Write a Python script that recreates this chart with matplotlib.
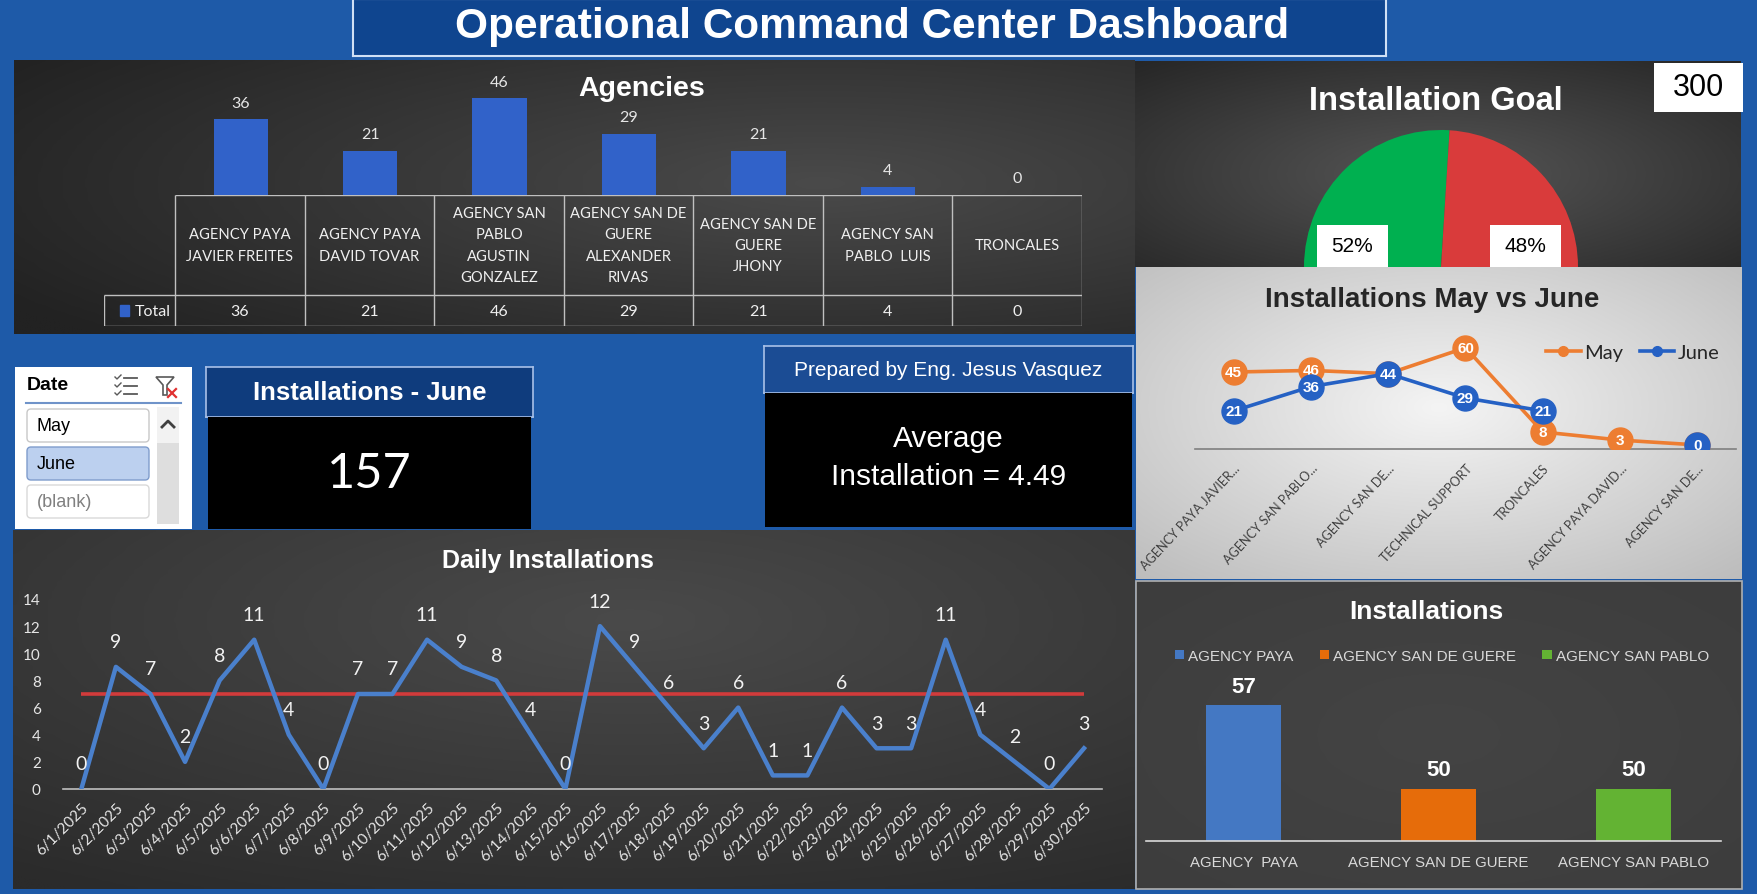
import numpy as np
import matplotlib
matplotlib.use("Agg")
import matplotlib.pyplot as plt
from matplotlib.colors import LinearSegmentedColormap
from matplotlib.patches import Rectangle, FancyBboxPatch, Polygon
from matplotlib.lines import Line2D

W, H = 1758, 895

# ---------------- data ----------------
agency_names = ["AGENCY PAYA\nJAVIER FREITES", "AGENCY PAYA\nDAVID TOVAR",
                "AGENCY SAN\nPABLO\nAGUSTIN\nGONZALEZ", "AGENCY SAN DE\nGUERE\nALEXANDER\nRIVAS",
                "AGENCY SAN DE\nGUERE\nJHONY", "AGENCY SAN\nPABLO  LUIS", "TRONCALES"]
agency_totals = [36, 21, 46, 29, 21, 4, 0]

goal_total = 300
goal_share = [52, 48]
goal_labels = ["52%", "48%"]

compare_cats = ["AGENCY PAYA JAVIER...", "AGENCY SAN PABLO...", "AGENCY SAN DE...",
                "TECHNICAL SUPPORT", "TRONCALES", "AGENCY PAYA DAVID...", "AGENCY SAN DE..."]
may_vals = [45, 46, 44, 60, 8, 3, 0]
june_vals = [21, 36, 44, 29, 21, np.nan, 0]

days = ["6/%d/2025" % d for d in range(1, 31)]
daily = [0, 9, 7, 2, 8, 11, 4, 0, 7, 7, 11, 9, 8, 4, 0,
         12, 9, 6, 3, 6, 1, 1, 6, 3, 3, 11, 4, 2, 0, 3]
daily_target = 7

group_names = ["AGENCY PAYA", "AGENCY SAN DE GUERE", "AGENCY SAN PABLO"]
group_ticks = ["AGENCY  PAYA", "AGENCY SAN DE GUERE", "AGENCY SAN PABLO"]
group_vals = [57, 50, 50]
group_colors = ["#4478c3", "#e66c0a", "#63b333"]

june_total = 157
avg_install = 4.49
slicer_items = ["May", "June", "(blank)"]

# ---------------- helpers ----------------
CAL = ["Lato", "DejaVu Sans"]
ARL = ["Liberation Sans", "DejaVu Sans"]

fig = plt.figure(figsize=(W / 100, H / 100), dpi=100)
fig.set_facecolor("#1e5aa8")


def px_axes(x0, y0, x1, y1):
    return fig.add_axes([x0 / W, 1 - y1 / H, (x1 - x0) / W, (y1 - y0) / H])


def ftext(x, y, s, **kw):
    return fig.text(x / W, 1 - y / H, s, **kw)


def panel(x0, y0, x1, y1, inner, outer, cx=0.5, cy=0.5, spread=0.8, edge=None):
    ax = px_axes(x0, y0, x1, y1)
    yy, xx = np.mgrid[0:1:120j, 0:1:240j]
    r = np.clip(np.hypot(xx - cx, yy - cy) / spread, 0, 1)
    cmap = LinearSegmentedColormap.from_list("g", [inner, outer])
    ax.imshow(r, cmap=cmap, extent=(0, 1, 0, 1), origin="lower", aspect="auto",
              vmin=0, vmax=1, interpolation="bilinear")
    ax.set_axis_off()
    if edge:
        ax.add_patch(Rectangle((0, 0), 1, 1, transform=ax.transAxes, fill=False,
                               ec=edge, lw=1.2, clip_on=False))
    return ax


def box(x0, y0, x1, y1, fc, ec=None, lw=1.2):
    ax = px_axes(x0, y0, x1, y1)
    ax.set_facecolor(fc)
    ax.set_xticks([])
    ax.set_yticks([])
    for s in ax.spines.values():
        if ec:
            s.set_color(ec)
            s.set_linewidth(lw)
        else:
            s.set_visible(False)
    return ax


# ---------------- header ----------------
box(353, 0, 1386, 57, "#0f458f", "#d0e0f5", 1.5)
ftext(872, 27, "Operational Command Center Dashboard", ha="center", va="center",
      color="white", fontsize=30.5, fontweight="bold", family=ARL)

# ---------------- Agencies ----------------
panel(14, 61, 1135, 335, "#4a4a4a", "#222222", cx=0.72, cy=0.55, spread=0.85)
ftext(642, 89, "Agencies", ha="center", va="center", color="white",
      fontsize=20.5, fontweight="bold", family=ARL)

ax = px_axes(176, 70, 1082, 196)
ax.patch.set_alpha(0)
bars = ax.bar(range(len(agency_totals)), agency_totals, width=0.42, color="#3162c9")
ax.bar_label(bars, padding=7, color="#e6e6e6", fontsize=11.5, family=CAL)
ax.set_xlim(-0.5, 6.5)
ax.set_ylim(0, 60)
ax.set_axis_off()

# data table under the bars
ax = px_axes(104.5, 196, 1082, 327)
ax.patch.set_alpha(0)
ax.set_xlim(-1.046, 6.5)
ax.set_ylim(131, 0)
ax.set_axis_off()
lc = "#c0c0c0"
ax.hlines(0, -0.5, 6.5, color=lc, lw=1)
ax.hlines([100, 131], -1.046, 6.5, color=lc, lw=1)
ax.vlines(np.arange(-0.5, 7, 1), 0, 131, color=lc, lw=1)
ax.vlines(-1.046, 100, 131, color=lc, lw=1)
for i, (name, v) in enumerate(zip(agency_names, agency_totals)):
    ax.text(i, 50, name, ha="center", va="center", color="#f0f0f0", fontsize=10.6,
            family=CAL, linespacing=1.65)
    ax.text(i, 115.5, str(v), ha="center", va="center", color="#f0f0f0",
            fontsize=11.5, family=CAL)
ax.add_patch(Rectangle((-0.925, 110), 0.07, 11, color="#3162c9"))
ax.text(-0.81, 115.5, "Total", ha="left", va="center", color="#f0f0f0",
        fontsize=11.5, family=CAL)

# ---------------- Installation Goal ----------------
panel(1135, 62, 1741, 268, "#565656", "#262626", cx=0.5, cy=0.45, spread=0.75)
ftext(1436, 102, "Installation Goal", ha="center", va="center", color="white",
      fontsize=23.5, fontweight="bold", family=ARL)
ax = px_axes(1441 - 137, 268 - 137, 1441 + 137, 268 + 137)
ax.pie(goal_share + [sum(goal_share)], colors=["#00b050", "#d93b3b", "none"],
       startangle=180, counterclock=False, radius=1,
       wedgeprops={"linewidth": 0})
ax.set_xlim(-1, 1)
ax.set_ylim(-1, 1)
ax.set_axis_off()

# ---------------- May vs June ----------------
panel(1136, 268, 1742, 580, "#f4f4f4", "#bcbcbc", cx=0.5, cy=0.55, spread=0.75)
ftext(1432, 300, "Installations May vs June", ha="center", va="center",
      color="#262626", fontsize=20, fontweight="bold", family=ARL)

# goal labels drawn after the lower panel so they sit on top
for (x0, x1), lab in zip([(1317, 1388), (1490, 1561)], goal_labels):
    b = box(x0, 226, x1, 268, "white")
    b.text(0.5, 0.5, lab, transform=b.transAxes, ha="center", va="center",
           fontsize=15, family=ARL, color="black")
b = box(1654, 64, 1743, 113, "white")
b.text(0.5, 0.5, str(goal_total), transform=b.transAxes, ha="center", va="center",
       fontsize=22, family=ARL, color="black")

ax = px_axes(1195, 328, 1736, 450)
ax.patch.set_alpha(0)
xs = np.arange(len(compare_cats))
may_c, june_c = "#ed7d31", "#2561c4"
ax.plot(xs, may_vals, "-o", color=may_c, lw=2.6, ms=18, zorder=3)
ax.plot(xs, june_vals, "-o", color=june_c, lw=2.6, ms=18, zorder=5)
for i, v in enumerate(may_vals):
    ax.text(i, v, str(v), ha="center", va="center", color="white", fontsize=11,
            fontweight="bold", family=ARL, zorder=4)
for i, v in enumerate(june_vals):
    if not np.isnan(v):
        ax.text(i, v, str(int(v)), ha="center", va="center", color="white",
                fontsize=11, fontweight="bold", family=ARL, zorder=6)
ax.set_xlim(-0.5, 6.5)
ax.set_ylim(-2.5, 72.8)
for s in ["top", "left", "right"]:
    ax.spines[s].set_visible(False)
ax.spines["bottom"].set_color("#7f7f7f")
ax.spines["bottom"].set_linewidth(1.2)
ax.set_yticks([])
ax.set_xticks(xs)
ax.set_xticklabels(compare_cats, rotation=47, ha="right", rotation_mode="anchor",
                   fontsize=9.0, family=CAL, color="#404040")
ax.tick_params(axis="x", length=0, pad=9)
handles = [Line2D([], [], color=may_c, marker="o", ms=7, lw=2.6),
           Line2D([], [], color=june_c, marker="o", ms=7, lw=2.6)]
ax.legend(handles, ["May", "June"], ncol=2, frameon=False, loc="center",
          bbox_to_anchor=(1633 / W, 1 - 353 / H), bbox_transform=fig.transFigure,
          prop={"family": CAL, "size": 14.5}, labelcolor="#262626",
          handlelength=1.7, handletextpad=0.2, columnspacing=0.8)

# ---------------- Installations by group ----------------
panel(1136, 582, 1742, 890, "#444444", "#3c3c3c", edge="#b0b0b0")
ftext(1426, 612, "Installations", ha="center", va="center", color="white",
      fontsize=19, fontweight="bold", family=ARL)
ax = px_axes(1146, 680, 1721, 842)
ax.patch.set_alpha(0)
gb = ax.bar(range(len(group_vals)), group_vals, width=0.385, color=group_colors)
ax.bar_label(gb, padding=6, color="white", fontsize=16, fontweight="bold", family=ARL)
ax.set_xlim(-0.5, 2.45)
ax.set_ylim(45.6, 59.2)
for s in ["top", "left", "right"]:
    ax.spines[s].set_visible(False)
ax.spines["bottom"].set_color("#d9d9d9")
ax.spines["bottom"].set_linewidth(1.2)
ax.set_yticks([])
ax.set_xticks(range(len(group_vals)))
ax.set_xticklabels(group_ticks, fontsize=10.8, family=ARL, color="#d9d9d9")
ax.tick_params(axis="x", length=0, pad=10)
ax.legend(list(gb), group_names, ncol=3, frameon=False, loc="center",
          bbox_to_anchor=(1442 / W, 1 - 657 / H), bbox_transform=fig.transFigure,
          prop={"family": ARL, "size": 11}, labelcolor="#d9d9d9",
          handlelength=0.6, handleheight=0.6, handletextpad=0.3, columnspacing=1.7)

# ---------------- Daily installations ----------------
panel(13, 531, 1135, 890, "#4a4a4a", "#2b2b2b", cx=0.55, cy=0.75, spread=0.9)
ftext(548, 561, "Daily Installations", ha="center", va="center", color="white",
      fontsize=18, fontweight="bold", family=ARL)
ax = px_axes(63, 600, 1102, 790)
ax.patch.set_alpha(0)
dx = np.arange(len(daily))
ax.hlines(daily_target, dx[0], dx[-1], color="#d23b3b", lw=2.6, zorder=2)
ax.plot(dx, daily, color="#4a80cc", lw=3.2, zorder=3)
for i, v in enumerate(daily):
    ax.annotate(str(v), (i, v), xytext=(0, 18), textcoords="offset points",
                ha="center", va="center", fontsize=14, family=CAL, color="#f2f2f2")
ax.set_xlim(-0.53, 29.52)
ax.set_ylim(0, 14)
for s in ["top", "left", "right"]:
    ax.spines[s].set_visible(False)
ax.spines["bottom"].set_color("#bfbfbf")
ax.spines["bottom"].set_linewidth(1.2)
ax.set_yticks(range(0, 15, 2))
ax.set_yticklabels([str(t) for t in range(0, 15, 2)], fontsize=11, family=CAL,
                   color="#e6e6e6")
ax.set_xticks(dx)
ax.set_xticklabels(days, rotation=45, ha="right", rotation_mode="anchor",
                   fontsize=11, family=CAL, color="#e6e6e6")
ax.tick_params(axis="y", length=0, pad=16)
ax.tick_params(axis="x", length=0, pad=8)

# ---------------- slicer ----------------
ax = box(15, 368, 192, 530, "white")
ax.set_xlim(15, 192)
ax.set_ylim(530, 368)
ax.text(27, 386, "Date", ha="left", va="center", fontsize=14, fontweight="bold",
        family=ARL, color="black")
ax.plot([26, 181], [404, 404], color="#6f93c9", lw=1.5)
fills = ["white", "#bcd0ef", "white"]
edges = ["#c8c8c8", "#7f9ccc", "#d9d9d9"]
tcols = ["black", "black", "#808080"]
for k, item in enumerate(slicer_items):
    y0 = 410 + k * 38
    ax.add_patch(FancyBboxPatch((27, y0), 122, 33, boxstyle="round,pad=0,rounding_size=4",
                                fc=fills[k], ec=edges[k], lw=1))
    ax.text(37, y0 + 16.5, item, ha="left", va="center", fontsize=13, family=ARL,
            color=tcols[k])
ax.add_patch(Rectangle((157, 408), 22, 117, fc="#dedede", ec="none"))
ax.add_patch(Rectangle((157, 408), 22, 36, fc="#f2f2f2", ec="none"))
ax.plot([162, 168, 174], [428, 422, 428], color="#404040", lw=2)
for yy in [379, 387, 395]:
    ax.plot([124, 137], [yy, yy], color="#595959", lw=1.3)
    ax.plot([115, 117, 121], [yy - 1, yy + 1, yy - 3], color="#595959", lw=1)
ax.add_patch(Polygon([(156, 378), (174, 378), (167, 386), (167, 396), (163, 396),
                      (163, 386)], closed=True, fill=False, ec="#595959", lw=1.2))
ax.plot([168, 176], [390, 398], color="#e03030", lw=1.6)
ax.plot([168, 176], [398, 390], color="#e03030", lw=1.6)

# ---------------- KPI cards ----------------
b = box(206, 368, 533, 418, "#0f3c7d", "#a9c1e8")
b.text(0.5, 0.5, "Installations - June", transform=b.transAxes, ha="center",
       va="center", color="white", fontsize=18.5, fontweight="bold", family=ARL)
b = box(208, 418, 531, 530, "black")
b.text(0.5, 0.5, str(june_total), transform=b.transAxes, ha="center", va="center",
       color="white", fontsize=35, family=CAL)

b = box(764, 347, 1133, 394, "#1b4c94", "#a9c1e8")
b.text(0.5, 0.5, "Prepared by Eng. Jesus Vasquez", transform=b.transAxes,
       ha="center", va="center", color="white", fontsize=15, family=ARL)
b = box(765, 394, 1132, 528, "black")
b.text(0.5, 0.52, "Average\nInstallation = %.2f" % avg_install, transform=b.transAxes,
       ha="center", va="center", color="white", fontsize=21.5, family=ARL,
       linespacing=1.45)

fig.savefig("out.png", dpi=100, facecolor=fig.get_facecolor())
